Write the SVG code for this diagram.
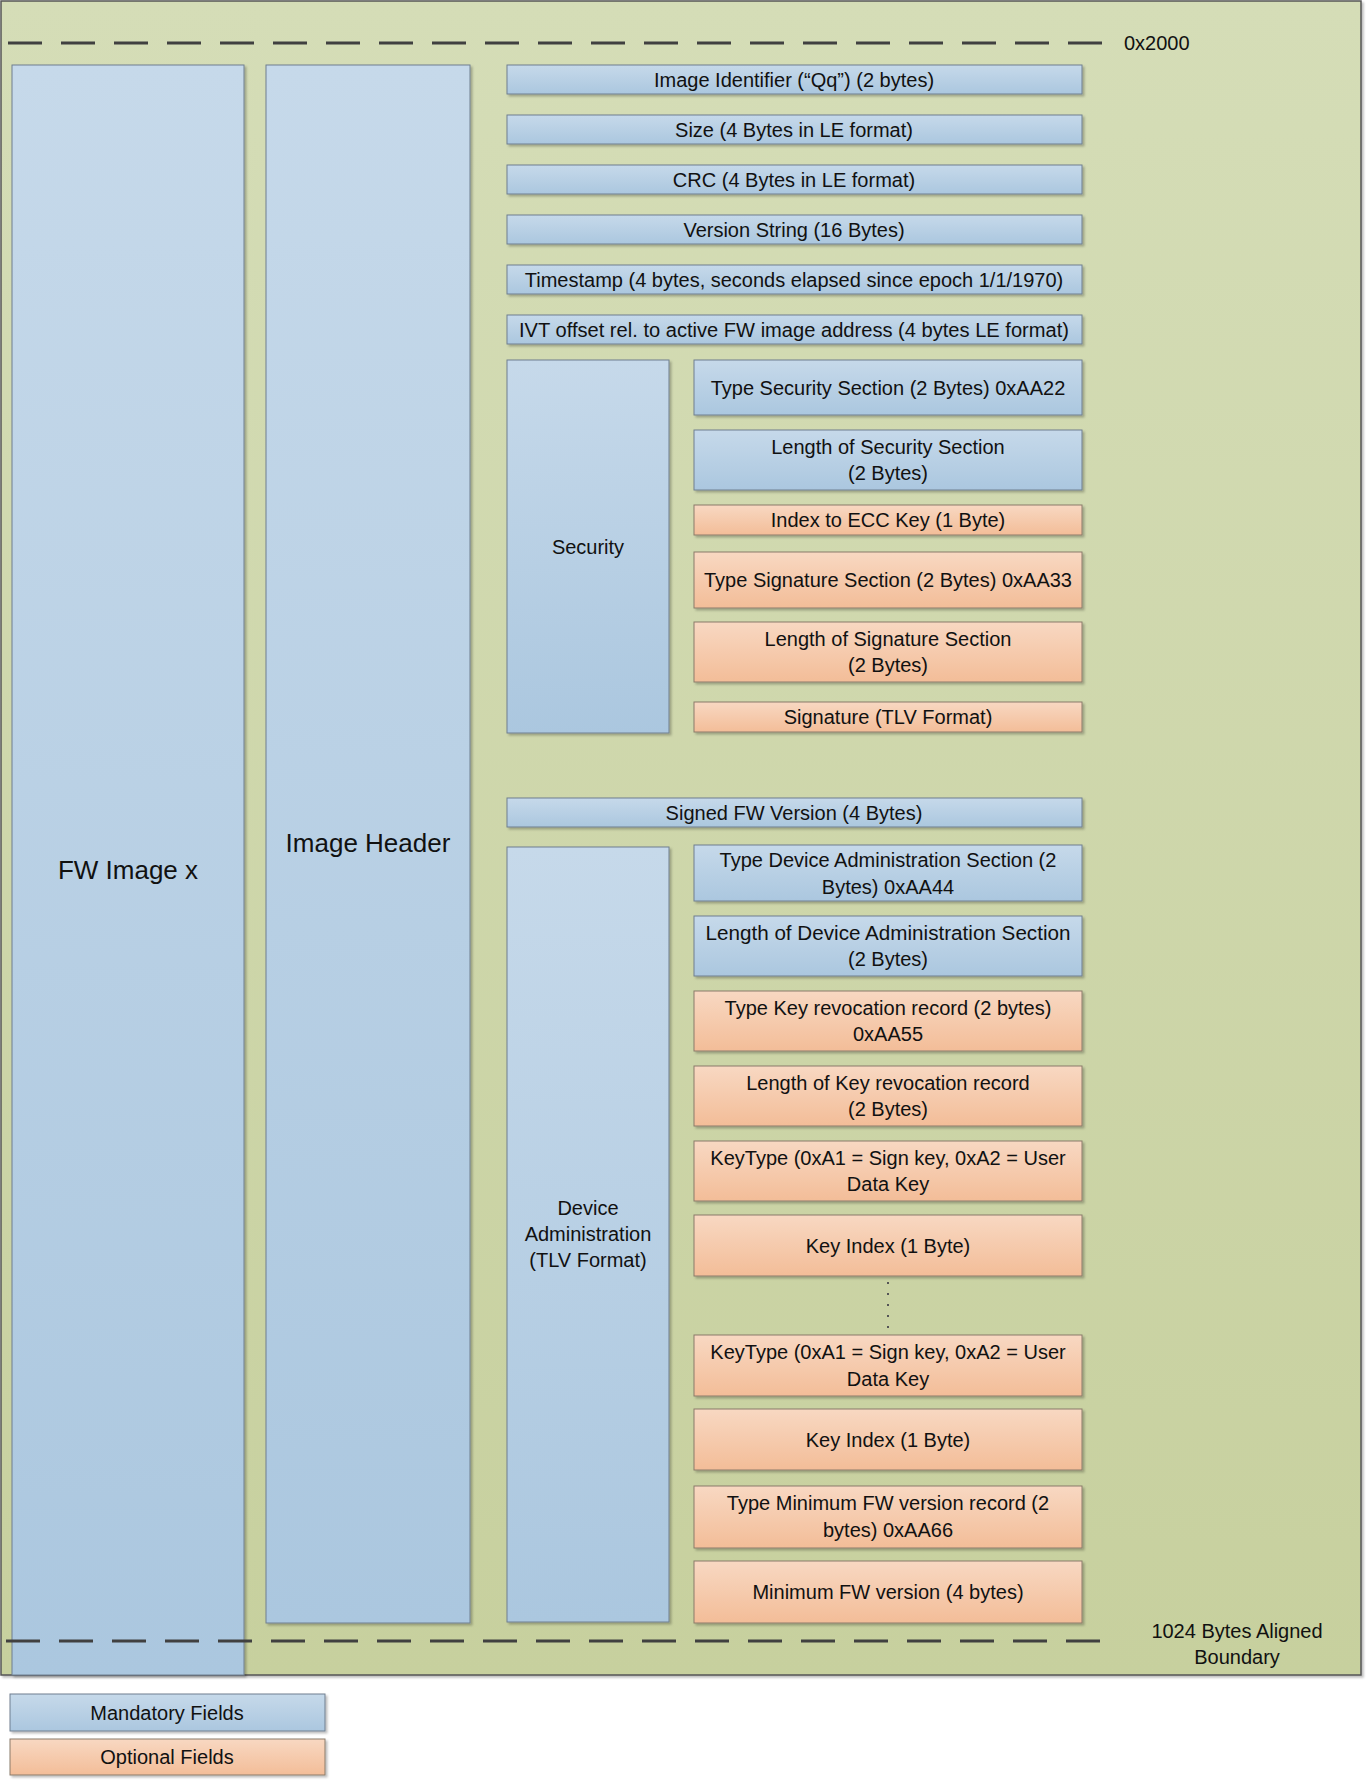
<svg xmlns="http://www.w3.org/2000/svg" width="1367" height="1781" viewBox="0 0 1367 1781">
<defs>
<linearGradient id="gb" x1="0" y1="0" x2="0" y2="1"><stop offset="0" stop-color="#c6d9ea"/><stop offset="1" stop-color="#abc7df"/></linearGradient>
<linearGradient id="go" x1="0" y1="0" x2="0" y2="1"><stop offset="0" stop-color="#f8d8c2"/><stop offset="1" stop-color="#f3bd98"/></linearGradient>
<linearGradient id="gg" x1="0" y1="0" x2="0" y2="1"><stop offset="0" stop-color="#d5ddb7"/><stop offset="1" stop-color="#c7d09e"/></linearGradient>
<filter id="sh" x="-5%" y="-5%" width="110%" height="120%"><feDropShadow dx="2" dy="2" stdDeviation="1" flood-color="#000" flood-opacity="0.25"/></filter>
</defs>
<style>
.b{fill:url(#gb);stroke:#6f7f8f;stroke-width:1;filter:url(#sh)}
.o{fill:url(#go);stroke:#8a7a6a;stroke-width:1;filter:url(#sh)}
text{font-family:"Liberation Sans",Arial,sans-serif;font-size:20px;fill:#111;text-anchor:middle;dominant-baseline:central}
.d{stroke:#404040;stroke-width:3;stroke-dasharray:34,19;fill:none}
</style>
<rect x="1" y="1" width="1360" height="1674" fill="url(#gg)" stroke="#555" stroke-width="1.5" filter="url(#sh)"/>
<g id="boundaries">
<line class="d" x1="8" y1="43" x2="1108" y2="43"/>
<text x="1124" y="43" style="text-anchor:start">0x2000</text>
<text x="1237" y="1631">1024 Bytes Aligned</text>
<text x="1237" y="1657">Boundary</text>
</g>
<g id="fwimage"><rect class="b" x="12" y="65" width="232" height="1610"/><text x="128" y="870" style="font-size:26px">FW Image x</text></g>
<g id="imageheader"><rect class="b" x="266" y="65" width="204" height="1558"/><text x="368" y="843" style="font-size:26px">Image Header</text></g>
<g id="r1"><rect class="b" x="507" y="65" width="575" height="29"/><text x="794" y="79.5">Image Identifier (“Qq”) (2 bytes)</text></g>
<g id="r2"><rect class="b" x="507" y="115" width="575" height="29"/><text x="794" y="129.5">Size (4 Bytes in LE format)</text></g>
<g id="r3"><rect class="b" x="507" y="165" width="575" height="29"/><text x="794" y="179.5">CRC (4 Bytes in LE format)</text></g>
<g id="r4"><rect class="b" x="507" y="215" width="575" height="29"/><text x="794" y="229.5">Version String (16 Bytes)</text></g>
<g id="r5"><rect class="b" x="507" y="265" width="575" height="29"/><text x="794" y="279.5">Timestamp (4 bytes, seconds elapsed since epoch 1/1/1970)</text></g>
<g id="r6"><rect class="b" x="507" y="315" width="575" height="29"/><text x="794" y="329.5" textLength="550" lengthAdjust="spacingAndGlyphs">IVT offset rel. to active FW image address (4 bytes LE format)</text></g>
<g id="security"><rect class="b" x="507" y="360" width="162" height="373"/><text x="588" y="547">Security</text></g>
<g id="s1"><rect class="b" x="694" y="360" width="388" height="55"/><text x="888" y="387.5">Type Security Section (2 Bytes) 0xAA22</text></g>
<g id="s2"><rect class="b" x="694" y="430" width="388" height="60"/><text x="888" y="447">Length of Security Section</text><text x="888" y="473">(2 Bytes)</text></g>
<g id="s3"><rect class="o" x="694" y="505" width="388" height="30"/><text x="888" y="520">Index to ECC Key (1 Byte)</text></g>
<g id="s4"><rect class="o" x="694" y="552" width="388" height="56"/><text x="888" y="580">Type Signature Section (2 Bytes) 0xAA33</text></g>
<g id="s5"><rect class="o" x="694" y="622" width="388" height="60"/><text x="888" y="639">Length of Signature Section</text><text x="888" y="665">(2 Bytes)</text></g>
<g id="s6"><rect class="o" x="694" y="702" width="388" height="30"/><text x="888" y="717">Signature (TLV Format)</text></g>
<g id="signedfw"><rect class="b" x="507" y="798" width="575" height="29"/><text x="794" y="812.5">Signed FW Version (4 Bytes)</text></g>
<g id="devadmin"><rect class="b" x="507" y="847" width="162" height="775"/><text x="588" y="1208">Device</text><text x="588" y="1234">Administration</text><text x="588" y="1260">(TLV Format)</text></g>
<g id="d1"><rect class="b" x="694" y="845" width="388" height="56"/><text x="888" y="860">Type Device Administration Section (2</text><text x="888" y="887">Bytes) 0xAA44</text></g>
<g id="d2"><rect class="b" x="694" y="916" width="388" height="60"/><text x="888" y="933" textLength="365" lengthAdjust="spacingAndGlyphs">Length of Device Administration Section</text><text x="888" y="959">(2 Bytes)</text></g>
<g id="d3"><rect class="o" x="694" y="991" width="388" height="60"/><text x="888" y="1008">Type Key revocation record (2 bytes)</text><text x="888" y="1034">0xAA55</text></g>
<g id="d4"><rect class="o" x="694" y="1066" width="388" height="60"/><text x="888" y="1083">Length of Key revocation record</text><text x="888" y="1109">(2 Bytes)</text></g>
<g id="d5"><rect class="o" x="694" y="1141" width="388" height="60"/><text x="888" y="1158">KeyType (0xA1 = Sign key, 0xA2 = User</text><text x="888" y="1184">Data Key</text></g>
<g id="d6"><rect class="o" x="694" y="1215" width="388" height="61"/><text x="888" y="1245.5">Key Index (1 Byte)</text></g>
<g id="dots"><line x1="888" y1="1282" x2="888" y2="1332" stroke="#555" stroke-width="2" stroke-dasharray="2,9"/></g>
<g id="d7"><rect class="o" x="694" y="1335" width="388" height="61"/><text x="888" y="1352">KeyType (0xA1 = Sign key, 0xA2 = User</text><text x="888" y="1379">Data Key</text></g>
<g id="d8"><rect class="o" x="694" y="1409" width="388" height="61"/><text x="888" y="1439.5">Key Index (1 Byte)</text></g>
<g id="d9"><rect class="o" x="694" y="1486" width="388" height="62"/><text x="888" y="1503">Type Minimum FW version record (2</text><text x="888" y="1530">bytes) 0xAA66</text></g>
<g id="d10"><rect class="o" x="694" y="1561" width="388" height="62"/><text x="888" y="1592">Minimum FW version (4 bytes)</text></g>
<g id="bottomline"><line class="d" x1="6" y1="1641" x2="1108" y2="1641"/></g>
<g id="legend-m"><rect class="b" x="10" y="1694" width="315" height="37"/><text x="167" y="1712.5">Mandatory Fields</text></g>
<g id="legend-o"><rect class="o" x="10" y="1739" width="315" height="36"/><text x="167" y="1757">Optional Fields</text></g>
</svg>
